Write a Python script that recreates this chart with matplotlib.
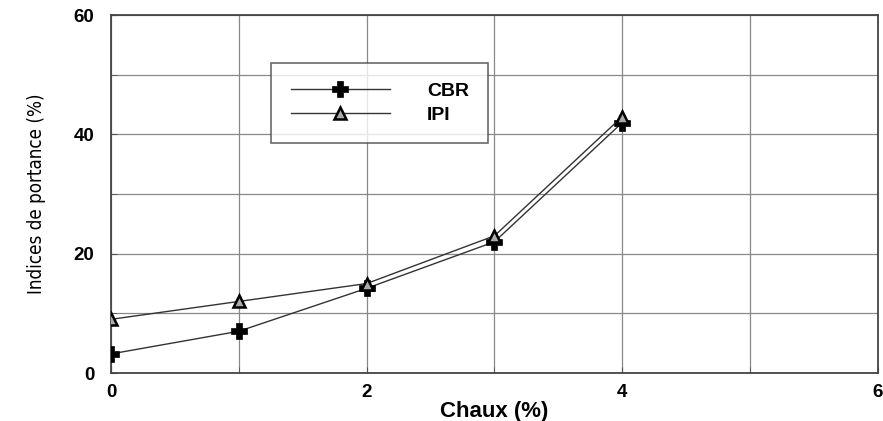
import matplotlib.pyplot as plt
from matplotlib.ticker import MultipleLocator

# Teneur en chaux et indices mesurés
chaux = [0, 1, 2, 3, 4]
cbr = [3.2, 7.0, 14.2, 22.0, 42.0]
ipi = [9.0, 12.0, 15.0, 23.0, 43.0]

x_ticks = [0, 2, 4, 6]
y_ticks = [0, 20, 40, 60]

plt.rcParams['font.family'] = ['Liberation Sans', 'DejaVu Sans']

fig = plt.figure(figsize=(8.83, 4.21), dpi=100)
ax = fig.add_axes([0.1257, 0.114, 0.8686, 0.850])

ax.plot(chaux, cbr, color='#333333', lw=1.0, marker='P', ms=12,
        mfc='black', mec='black', mew=0.5, label='CBR', zorder=3)
ax.plot(chaux, ipi, color='#333333', lw=1.0, marker='^', ms=8,
        mfc='#aaaaaa', mec='black', mew=1.8, label='IPI', zorder=3)

ax.set_xlim(0, 6)
ax.set_ylim(0, 60)
ax.set_xticks(x_ticks)
ax.set_yticks(y_ticks)
ax.xaxis.set_minor_locator(MultipleLocator(1))
ax.yaxis.set_minor_locator(MultipleLocator(10))
ax.grid(True, which='both', color='#888888', lw=0.9)
ax.set_axisbelow(True)
ax.tick_params(which='both', direction='in', length=4, color='#555555')
ax.tick_params(axis='x', pad=8)
ax.tick_params(axis='y', pad=12)

for lbl in ax.get_xticklabels() + ax.get_yticklabels():
    lbl.set_fontweight('bold')
    lbl.set_fontsize(13.5)

for sp in ax.spines.values():
    sp.set_color('#444444')
    sp.set_linewidth(1.3)

ax.set_xlabel('Chaux (%)', fontsize=16, fontweight='bold', labelpad=0)
ax.set_ylabel('Indices de portance (%)', fontsize=13.5,
              family='DejaVu Sans', fontstretch='condensed', labelpad=20)

leg = ax.legend(loc='upper left', bbox_to_anchor=(0.209, 0.866),
                frameon=True, fancybox=False, edgecolor='#444444',
                prop={'weight': 'bold', 'size': 14}, handlelength=5.1,
                borderpad=1.0, handletextpad=1.9, labelspacing=0.3,
                borderaxespad=0)
leg.get_frame().set_linewidth(1.2)

fig.savefig('out.png', dpi=100, facecolor='white')
